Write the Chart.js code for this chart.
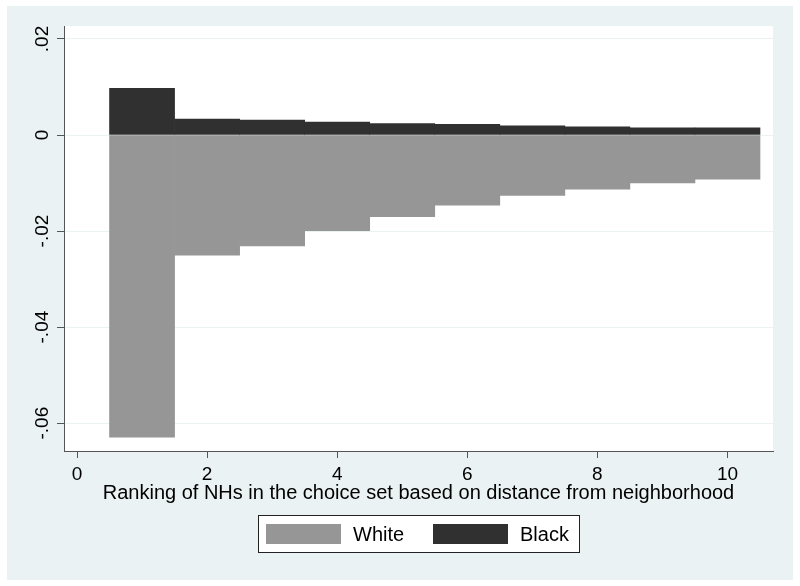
<!DOCTYPE html>
<html>
<head>
<meta charset="utf-8">
<script src="https://cdn.jsdelivr.net/npm/chart.js@4"></script>
<style>
  body { margin: 0; background: #fff; }
  #wrap { width: 800px; height: 586px; }
</style>
</head>
<body>
<div id="wrap"><canvas id="myChart" width="800" height="586"></canvas></div>
<script>
// ranking of NHs (distance order)
const ranks = [1, 2, 3, 4, 5, 6, 7, 8, 9, 10];
const whiteVals = [-0.0629, -0.0250, -0.0231, -0.0199, -0.0170, -0.0146, -0.0126, -0.0113, -0.0100, -0.0092];
const blackVals = [0.0097, 0.0033, 0.0031, 0.0027, 0.0024, 0.0022, 0.0019, 0.0017, 0.0015, 0.0015];
const xTicks = [0, 2, 4, 6, 8, 10];
const yTicks = [0.02, 0, -0.02, -0.04, -0.06];
const yTickLabels = ['.02', '0', '-.02', '-.04', '-.06'];
const xTitle = 'Ranking of NHs in the choice set based on distance from neighborhood';

const FONT = 'Liberation Sans, Arial, sans-serif';
const axisColor = '#555';

// backgrounds, rotated y labels, boxed legend (Stata look)
const stataLook = {
  id: 'stataLook',
  beforeDraw(chart) {
    const { ctx, chartArea: a } = chart;
    ctx.save();
    ctx.fillStyle = '#fff';
    ctx.fillRect(0, 0, chart.width, chart.height);
    ctx.fillStyle = '#eaf2f3';
    ctx.fillRect(7, 6, 786, 574);
    ctx.fillStyle = '#fff';
    ctx.fillRect(a.left, a.top, a.right - a.left, a.bottom - a.top);
    ctx.restore();
  },
  afterDraw(chart) {
    const { ctx, chartArea: a } = chart;
    const y = chart.scales.y;
    ctx.save();
    ctx.fillStyle = '#000';
    ctx.font = '19px ' + FONT;
    ctx.textAlign = 'center';
    ctx.textBaseline = 'alphabetic';
    yTicks.forEach((v, i) => {
      ctx.save();
      ctx.translate(a.left - 16, y.getPixelForValue(v));
      ctx.rotate(-Math.PI / 2);
      ctx.fillText(yTickLabels[i], 0, 0);
      ctx.restore();
    });

    // legend
    const ds = chart.data.datasets;
    const cx = (a.left + a.right) / 2;
    const boxW = 322, boxH = 38, top = 515;
    const left = Math.round(cx - boxW / 2);
    ctx.fillStyle = '#fff';
    ctx.fillRect(left, top, boxW, boxH);
    ctx.strokeStyle = '#222';
    ctx.lineWidth = 1;
    ctx.strokeRect(left + 0.5, top + 0.5, boxW - 1, boxH - 1);
    ctx.font = '20px ' + FONT;
    ctx.textAlign = 'left';
    ctx.textBaseline = 'middle';
    let x = left + 8;
    ds.forEach(d => {
      ctx.fillStyle = d.backgroundColor;
      ctx.fillRect(x, top + 9, 75, 20);
      ctx.fillStyle = '#000';
      ctx.fillText(d.label, x + 87, top + boxH / 2 + 1);
      x += 167;
    });
    ctx.restore();
  }
};

const ctx = document.getElementById('myChart').getContext('2d');
const myChart = new Chart(ctx, {
  type: 'bar',
  data: {
    datasets: [
      {
        label: 'White',
        data: ranks.map((r, i) => ({ x: r, y: whiteVals[i] })),
        backgroundColor: '#969696',
        borderWidth: 0
      },
      {
        label: 'Black',
        data: ranks.map((r, i) => ({ x: r, y: blackVals[i] })),
        backgroundColor: '#303030',
        borderWidth: 0
      }
    ]
  },
  options: {
    responsive: false,
    animation: false,
    layout: { padding: { left: 0, top: 26, right: 27, bottom: 0 } },
    datasets: { bar: { grouped: false, barPercentage: 1, categoryPercentage: 1 } },
    plugins: { legend: { display: false }, tooltip: { enabled: false } },
    scales: {
      x: {
        type: 'linear',
        offset: false,
        min: -0.2,
        max: 10.7,
        afterBuildTicks: s => { s.ticks = xTicks.map(v => ({ value: v })); },
        afterFit: s => { s.height = 135; },
        grid: { offset: false, drawOnChartArea: false, tickLength: 7, tickColor: axisColor, tickWidth: 1 },
        border: { display: true, color: axisColor, width: 1 },
        ticks: { color: '#000', font: { size: 19, family: FONT }, padding: 5, maxRotation: 0 },
        title: {
          display: true,
          text: xTitle,
          color: '#000',
          font: { size: 20, family: FONT },
          padding: { top: 0, bottom: 81 }
        }
      },
      y: {
        min: -0.0658,
        max: 0.0227,
        afterBuildTicks: s => { s.ticks = yTicks.map(v => ({ value: v })); },
        afterFit: s => { s.width = 64; },
        grid: { color: '#eaf2f3', lineWidth: 1, tickLength: 7, tickColor: axisColor, tickWidth: 1 },
        border: { display: true, color: axisColor, width: 1 },
        ticks: { color: 'rgba(0,0,0,0)', font: { size: 19, family: FONT } }
      }
    }
  },
  plugins: [stataLook]
});
</script>
</body>
</html>
